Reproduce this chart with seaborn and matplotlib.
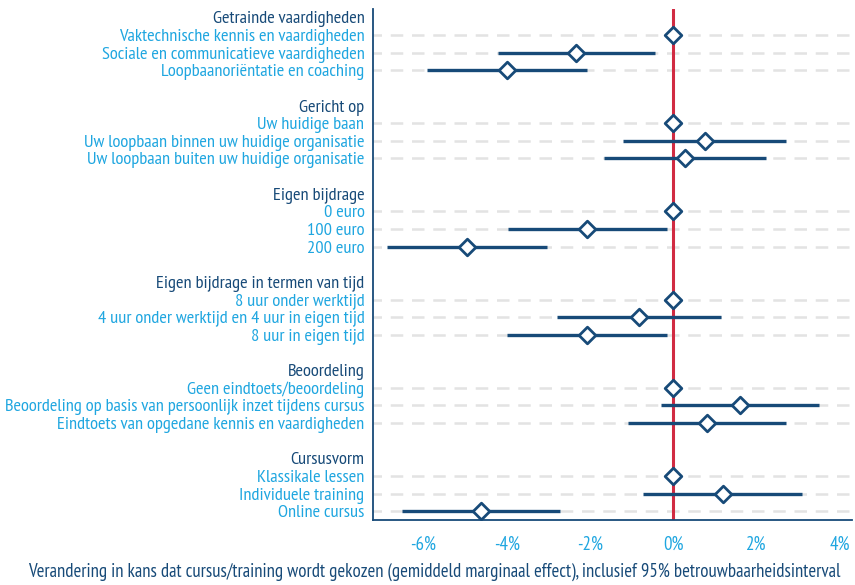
import matplotlib
matplotlib.use("Agg")
import matplotlib.pyplot as plt
import seaborn as sns
import pandas as pd
from matplotlib.ticker import FuncFormatter

# ---- data ----
groups = ["Getrainde vaardigheden", "Gericht op", "Eigen bijdrage",
          "Eigen bijdrage in termen van tijd", "Beoordeling", "Cursusvorm"]
items = [
    ["Vaktechnische kennis en vaardigheden", "Sociale en communicatieve vaardigheden",
     "Loopbaanoriëntatie en coaching"],
    ["Uw huidige baan", "Uw loopbaan binnen uw huidige organisatie",
     "Uw loopbaan buiten uw huidige organisatie"],
    ["0 euro", "100 euro", "200 euro"],
    ["8 uur onder werktijd", "4 uur onder werktijd en 4 uur in eigen tijd",
     "8 uur in eigen tijd"],
    ["Geen eindtoets/beoordeling", "Beoordeling op basis van persoonlijk inzet tijdens cursus",
     "Eindtoets van opgedane kennis en vaardigheden"],
    ["Klassikale lessen", "Individuele training", "Online cursus"],
]
estimate = [[0.0, -2.34, -4.00], [0.0, 0.76, 0.28], [0.0, -2.07, -4.96],
            [0.0, -0.83, -2.07], [0.0, 1.60, 0.81], [0.0, 1.18, -4.61]]
lower = [[0.0, -4.21, -5.92], [0.0, -1.20, -1.67], [0.0, -3.98, -6.88],
         [0.0, -2.80, -4.00], [0.0, -0.30, -1.08], [0.0, -0.73, -6.53]]
upper = [[0.0, -0.44, -2.07], [0.0, 2.70, 2.22], [0.0, -0.15, -3.04],
         [0.0, 1.14, -0.15], [0.0, 3.50, 2.70], [0.0, 3.08, -2.72]]
xticks = [-6, -4, -2, 0, 2, 4]
xlabel = ("Verandering in kans dat cursus/training wordt gekozen (gemiddeld marginaal effect), "
          "inclusief 95% betrouwbaarheidsinterval")

DARK = "#174a78"
LIGHT = "#1fa6e0"
RED = "#d12b42"
GRID = "#e3e3e3"

# build table
rows = []
labels = []
pos = 0
for g, its, es, lo, up in zip(groups, items, estimate, lower, upper):
    labels.append((pos, g, True))
    pos += 1
    for it, e, l, u in zip(its, es, lo, up):
        rows.append(dict(group=g, item=it, est=e, lo=l, hi=u, pos=pos))
        labels.append((pos, it, False))
        pos += 1
    pos += 1
df = pd.DataFrame(rows)

sns.set_theme(style="white")
plt.rcParams["font.family"] = ["PT Sans Narrow", "DejaVu Sans"]

fig = plt.figure(figsize=(8.55, 5.85), dpi=100)
ax = fig.add_axes([0.436, 0.111, 0.56, 0.873])

# gridlines for item rows
ax.hlines(df["pos"], -7.3, 4.4, colors=GRID, linestyles=(0, (5, 3.5)), linewidth=1.8, zorder=0)
# reference line
ax.axvline(0, color=RED, linewidth=2.2, zorder=1)
# CI lines
ax.hlines(df["pos"], df["lo"], df["hi"], colors=DARK, linewidth=2.4, zorder=2)
# point estimates
sns.scatterplot(data=df, x="est", y="pos", marker="D", s=72, color="white",
                edgecolor=DARK, linewidth=2.0, zorder=3, ax=ax, legend=False)

ax.set_xlim(-7.22, 4.28)
ax.set_ylim(labels[-1][0] + 0.5, -0.45)
ax.set_xticks(xticks)
ax.xaxis.set_major_formatter(FuncFormatter(lambda v, p: f"{v:.0f}%"))
ax.tick_params(axis="x", colors=DARK, length=6, width=1.3, direction="out",
               labelcolor=LIGHT, labelsize=13.5, pad=5)
ax.set_yticks([l[0] for l in labels])
ax.set_yticklabels([l[1] for l in labels])
ax.tick_params(axis="y", length=0, labelsize=13.2, pad=6)
for t, l in zip(ax.get_yticklabels(), labels):
    t.set_color(DARK if l[2] else LIGHT)
ax.set_xlabel("")
ax.set_ylabel("")
for s in ["top", "right"]:
    ax.spines[s].set_visible(False)
for s in ["left", "bottom"]:
    ax.spines[s].set_color(DARK)
    ax.spines[s].set_linewidth(1.3)

fig.text(0.508, 0.006, xlabel, ha="center", va="bottom", color=DARK, fontsize=13.5)

fig.savefig("out.png", dpi=100)
